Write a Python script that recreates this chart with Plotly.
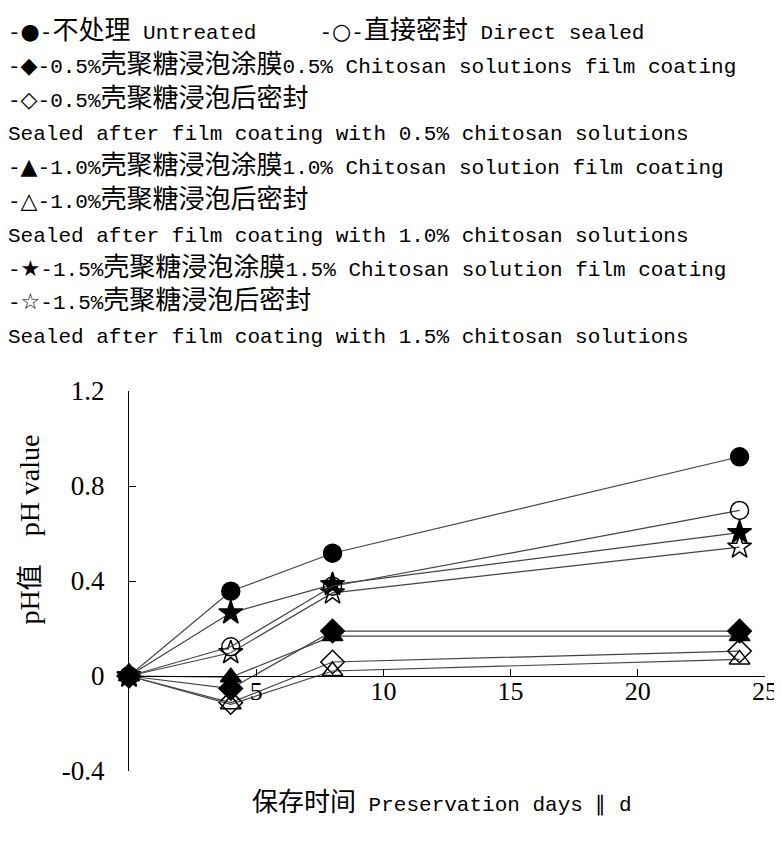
import re
import plotly.graph_objects as go

# ---- data ----
days = [0, 4, 8, 24]
untreated = [0, 0.357, 0.517, 0.923]
direct_sealed = [0, 0.123, 0.378, 0.697]
coat_05 = [0, -0.053, 0.189, 0.189]
seal_05 = [0, -0.112, 0.059, 0.105]
coat_10 = [0, -0.005, 0.168, 0.168]
seal_10 = [0, -0.119, 0.021, 0.070]
coat_15 = [0, 0.266, 0.385, 0.604]
seal_15 = [0, 0.098, 0.350, 0.543]

x_ticks = [5, 10, 15, 20, 25]
y_ticks = [-0.4, 0, 0.4, 0.8, 1.2]
y_ticktext = ["-0.4", "0", "0.4", "0.8", "1.2"]

legend_lines = [
    "-●-不处理 Untreated\u00a0\u00a0\u00a0\u00a0\u00a0-○-直接密封 Direct sealed",
    "-◆-0.5%壳聚糖浸泡涂膜0.5% Chitosan solutions film coating",
    "-◇-0.5%壳聚糖浸泡后密封",
    "Sealed after film coating with 0.5% chitosan solutions",
    "-▲-1.0%壳聚糖浸泡涂膜1.0% Chitosan solution film coating",
    "-△-1.0%壳聚糖浸泡后密封",
    "Sealed after film coating with 1.0% chitosan solutions",
    "-★-1.5%壳聚糖浸泡涂膜1.5% Chitosan solution film coating",
    "-☆-1.5%壳聚糖浸泡后密封",
    "Sealed after film coating with 1.5% chitosan solutions",
]
x_title = "保存时间 Preservation days ∥ d"
y_title = "pH值\u00a0\u00a0\u00a0\u00a0pH value"

LATIN = "Liberation Mono"
SERIF = "Liberation Serif"
CJK = "Noto Sans CJK SC"
SYM = "DejaVu Sans"
W, H = 782, 845
ML, MR, MT, MB = 121, 15, 383, 82
PW, PH = W - ML - MR, H - MT - MB


def px(x):
    return (x - ML) / PW


def py(y):
    return (H - MB - y) / PH


def mix(s, latin_size=21, latin_font=LATIN):
    out = []
    for run in re.findall(r"[\u4e00-\u9fff]+|[●○◆◇▲△★☆]+|[^\u4e00-\u9fff●○◆◇▲△★☆]+", s):
        if re.match(r"[\u4e00-\u9fff]", run):
            out.append(run)
        elif re.match(r"[●○◆◇▲△★☆]", run):
            out.append(f'<span style="font-family:{SYM};font-size:22px">{run}</span>')
        else:
            out.append(f'<span style="font-family:{latin_font};font-size:{latin_size}px">{run}</span>')
    return "".join(out)


series = [
    (coat_05, "diamond"),
    (seal_05, "diamond-open"),
    (coat_10, "triangle-up"),
    (seal_10, "triangle-up-open"),
    (seal_15, "star-open"),
    (coat_15, "star"),
    (direct_sealed, "circle-open"),
    (untreated, "circle"),
]

fig = go.Figure()
for ys, sym in series:
    fig.add_trace(go.Scatter(
        x=days, y=ys, mode="lines+markers",
        line=dict(color="#444444", width=1.2),
        marker=dict(symbol=sym, size=18, color="black",
                    line=dict(color="black", width=1.5)),
        cliponaxis=False, showlegend=False,
    ))

base = dict(family=CJK, size=26, color="black")
ann = [
    dict(x=px(-3), y=py(0), xref="paper", yref="paper",
         text="<br>".join(mix(t) for t in legend_lines),
         showarrow=False, xanchor="left", yanchor="top", align="left",
         borderpad=0, font=base),
    dict(x=px(439), y=py(800 - 9), xref="paper", yref="paper", text=mix(x_title),
         showarrow=False, xanchor="center", yanchor="middle", font=base),
    dict(x=px(17), y=py(522), xref="paper", yref="paper",
         text=mix(y_title, 28, SERIF),
         showarrow=False, xanchor="center", yanchor="middle", textangle=-90,
         font=base),
]

fig.update_layout(
    width=W, height=H, margin=dict(l=ML, r=MR, t=MT, b=MB),
    paper_bgcolor="white", plot_bgcolor="white",
    annotations=ann,
    xaxis=dict(range=[0, 25], tickvals=x_ticks, showline=True, linecolor="black",
               linewidth=1, ticks="inside", ticklen=7, tickcolor="black",
               showgrid=False, zeroline=False, anchor="free", position=0.25,
               ticklabelstandoff=-8,
               tickfont=dict(family=SERIF, size=26, color="black")),
    yaxis=dict(range=[-0.4, 1.2], tickvals=y_ticks, ticktext=y_ticktext,
               showline=True, linecolor="black", linewidth=1, ticks="inside",
               ticklen=7, tickcolor="black", showgrid=False, zeroline=False,
               ticklabelstandoff=18,
               tickfont=dict(family=SERIF, size=27, color="black")),
)

fig.write_html("out.html")
